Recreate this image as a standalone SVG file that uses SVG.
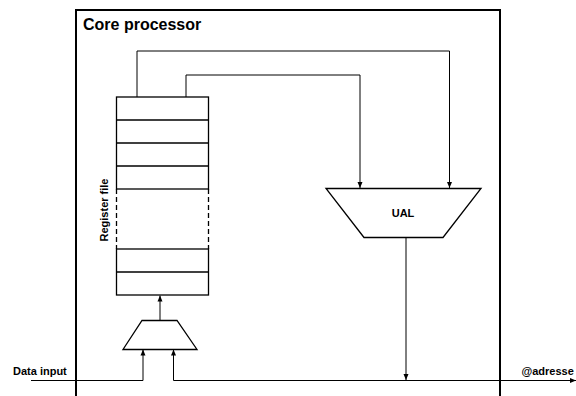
<svg xmlns="http://www.w3.org/2000/svg" width="576" height="396" viewBox="0 0 576 396">
<defs>
<marker id="arr" viewBox="0 0 6 6" refX="6" refY="3" markerWidth="6" markerHeight="6" markerUnits="userSpaceOnUse" orient="auto">
<path d="M0,0.5 L6,3 L0,5.5 Z" fill="#000"/>
</marker>
<style>
.lbl{font-family:"Liberation Sans",Arial,sans-serif;font-weight:bold;font-size:11px;fill:#000}
.title{font-family:"Liberation Sans",Arial,sans-serif;font-weight:bold;font-size:16px;fill:#000}
.box{fill:#fff;stroke:#000;stroke-width:1.3}
.wire{fill:none;stroke:#000;stroke-width:1}
</style>
</defs>
<rect width="576" height="396" fill="#fff"/>
<g id="core">
<rect x="76" y="10" width="424" height="400" fill="none" stroke="#000" stroke-width="2"/>
<text class="title" x="83" y="30">Core processor</text>
</g>
<g id="regfile">
<rect class="box" x="116.5" y="97" width="92" height="92"/>
<line class="box" x1="116.5" y1="120" x2="208.5" y2="120"/>
<line class="box" x1="116.5" y1="143" x2="208.5" y2="143"/>
<line class="box" x1="116.5" y1="166" x2="208.5" y2="166"/>
<line x1="116.5" y1="189" x2="116.5" y2="249" stroke="#000" stroke-width="1.3" stroke-dasharray="5,3"/>
<line x1="208.5" y1="189" x2="208.5" y2="249" stroke="#000" stroke-width="1.3" stroke-dasharray="5,3"/>
<rect class="box" x="116.5" y="249" width="92" height="46"/>
<line class="box" x1="116.5" y1="272" x2="208.5" y2="272"/>
<text class="lbl" transform="translate(108.3,210) rotate(-90)" text-anchor="middle">Register file</text>
</g>
<g id="ual">
<polygon class="box" points="326,188.5 481,188.5 443,237.5 364,237.5"/>
<text class="lbl" x="403" y="217" text-anchor="middle">UAL</text>
</g>
<g id="mux">
<polygon class="box" points="142,320.5 177,320.5 197,349.5 123,349.5"/>
</g>
<g id="connectors">
<polyline class="wire" points="137,97 137,51 449.5,51 449.5,188" marker-end="url(#arr)"/>
<polyline class="wire" points="186,97 186,75 360,75 360,188" marker-end="url(#arr)"/>
<polyline class="wire" points="160,320.5 160,295.5" marker-end="url(#arr)"/>
<polyline class="wire" points="31,380.5 143,380.5 143,349.5" marker-end="url(#arr)"/>
<polyline class="wire" points="173.5,380.5 576,380.5" marker-end="url(#arr)"/>
<polyline class="wire" points="173.5,380.5 173.5,349.5" marker-end="url(#arr)"/>
<polyline class="wire" points="406,237.5 406,380" marker-end="url(#arr)"/>
<text class="lbl" x="13" y="374.5">Data input</text>
<text class="lbl" x="521.5" y="374.5">@adresse</text>
</g>
</svg>
